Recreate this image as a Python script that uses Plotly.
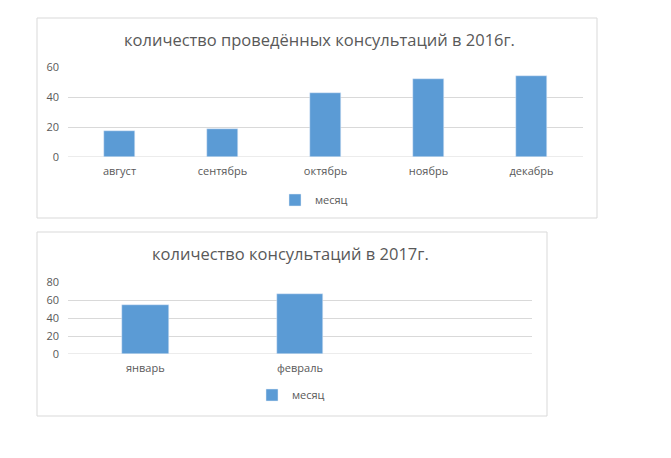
import plotly.graph_objects as go

# ---- data ----
months_2016 = ["август", "сентябрь", "октябрь", "ноябрь", "декабрь"]
values_2016 = [17.5, 19, 43, 52, 54]
months_2017 = ["январь", "февраль"]
values_2017 = [54, 67]
series_name = "месяц"
title_2016 = "количество проведённых консультаций в 2016г."
title_2017 = "количество консультаций в 2017г."
ticks_2016 = [0, 20, 40, 60]
ticks_2017 = [0, 20, 40, 60, 80]

W, H = 671, 458
FONT = "Open Sans, Liberation Sans, sans-serif"
TXT = "#595959"
GRID = "#d9d9d9"
BAR = "#5b9bd5"


def px(x):
    return x / W


def py(y):
    return 1 - y / H


fig = go.Figure()
fig.add_trace(go.Bar(x=months_2016, y=values_2016, name=series_name,
                     marker_color=BAR, width=0.31, xaxis="x", yaxis="y",
                     legend="legend", showlegend=True))
fig.add_trace(go.Bar(x=months_2017, y=values_2017, name=series_name,
                     marker_color=BAR, width=0.30, xaxis="x2", yaxis="y2",
                     legend="legend2", showlegend=True))

axis_common = dict(showline=False, zeroline=False, automargin=False,
                   tickfont=dict(family=FONT, size=11, color=TXT), fixedrange=True)

fig.update_layout(
    width=W, height=H,
    margin=dict(l=0, r=0, t=0, b=0, pad=0, autoexpand=False),
    paper_bgcolor="white", plot_bgcolor="white",
    font=dict(family=FONT, color=TXT),
    xaxis=dict(domain=[px(68), px(583)], anchor="y", type="category",
               categoryorder="array", categoryarray=months_2016,
               showgrid=False, ticklabelstandoff=6, **axis_common),
    yaxis=dict(domain=[py(157), py(67)], anchor="x", range=[0, 60],
               tickvals=ticks_2016, showgrid=True, gridcolor=GRID, gridwidth=1,
               ticklabelstandoff=8, **axis_common),
    xaxis2=dict(domain=[px(68), px(532)], anchor="y2", type="category",
                categoryorder="array", categoryarray=months_2017, range=[-0.5, 2.5],
                showgrid=False, ticklabelstandoff=6, **axis_common),
    yaxis2=dict(domain=[py(354), py(282)], anchor="x2", range=[0, 80],
                tickvals=ticks_2017, showgrid=True, gridcolor=GRID, gridwidth=1,
                ticklabelstandoff=8, **axis_common),
    legend=dict(orientation="h", x=px(275), xanchor="left", y=py(200), yanchor="middle",
                font=dict(family=FONT, size=11, color=TXT), bgcolor="rgba(0,0,0,0)"),
    legend2=dict(orientation="h", x=px(252), xanchor="left", y=py(395), yanchor="middle",
                 font=dict(family=FONT, size=11, color=TXT), bgcolor="rgba(0,0,0,0)"),
    bargap=0,
    hovermode=False,
    shapes=[
        dict(type="rect", xref="paper", yref="paper", x0=px(37), x1=px(597), y0=py(218), y1=py(18),
             line=dict(color=GRID, width=1), fillcolor="rgba(0,0,0,0)", layer="below"),
        dict(type="rect", xref="paper", yref="paper", x0=px(37), x1=px(547), y0=py(416), y1=py(232),
             line=dict(color=GRID, width=1), fillcolor="rgba(0,0,0,0)", layer="below"),
        # zero axis lines
        dict(type="line", xref="paper", yref="y", x0=px(68), x1=px(583), y0=0, y1=0,
             line=dict(color=GRID, width=1), layer="below"),
        dict(type="line", xref="paper", yref="y2", x0=px(68), x1=px(532), y0=0, y1=0,
             line=dict(color=GRID, width=1), layer="below"),
    ],
    annotations=[
        dict(text=title_2016, xref="paper", yref="paper", x=px(319), y=py(40),
             xanchor="center", yanchor="middle", showarrow=False,
             font=dict(family=FONT, size=16.5, color=TXT)),
        dict(text=title_2017, xref="paper", yref="paper", x=px(290), y=py(253),
             xanchor="center", yanchor="middle", showarrow=False,
             font=dict(family=FONT, size=16.5, color=TXT)),
    ],
)

fig.write_html(
    "out.html",
    config={"displayModeBar": False, "staticPlot": False},
    post_script="document.body.style.margin='0';document.body.style.padding='0';document.body.style.overflow='hidden';",
)
